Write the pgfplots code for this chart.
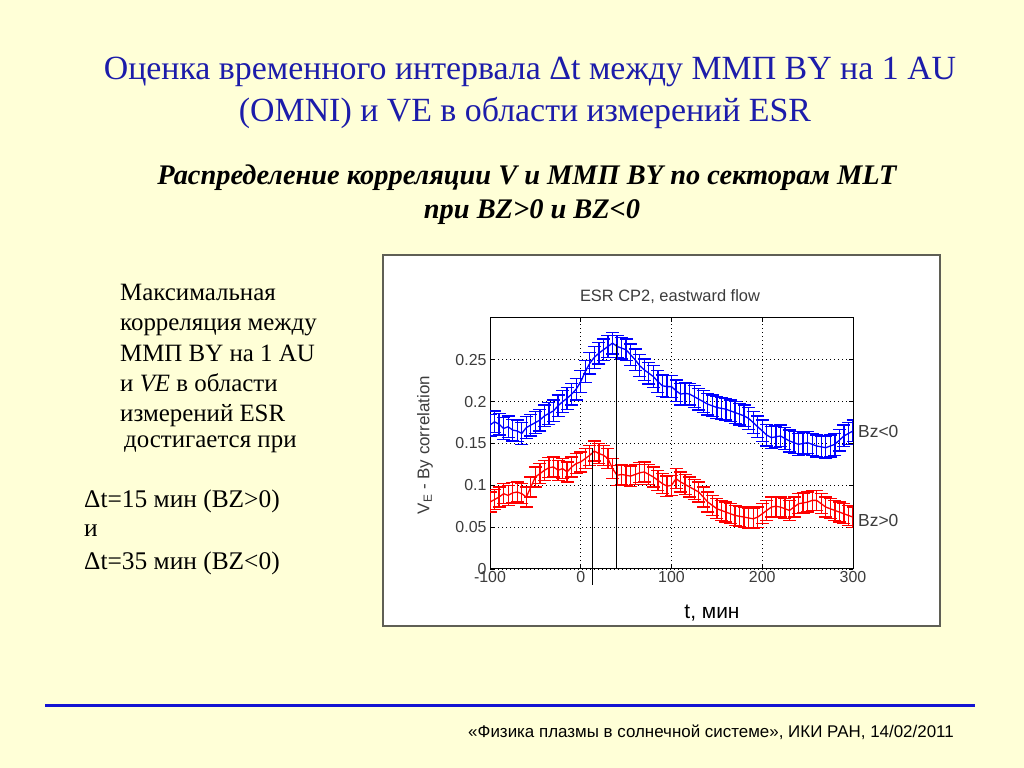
\documentclass[border=0pt]{standalone}
\usepackage{fontspec}
\setmainfont{Liberation Serif}
\newfontfamily\arial{Liberation Sans}
\usepackage{pgfplots}
\pgfplotsset{compat=1.18}
\usepackage{pgfplotstable}
\definecolor{bg}{RGB}{255,255,215}
\definecolor{titleblue}{RGB}{28,28,170}
\definecolor{rulerblue}{RGB}{20,20,210}
\definecolor{ticgray}{RGB}{60,60,60}
\definecolor{framegray}{RGB}{95,95,85}

\pgfplotstableread{
t    b     r
-100 0.172 0.080
-95  0.176 0.083
-90  0.173 0.086
-85  0.168 0.090
-80  0.170 0.088
-75  0.166 0.091
-70  0.165 0.092
-65  0.162 0.090
-60  0.169 0.086
-55  0.172 0.098
-50  0.175 0.110
-45  0.178 0.114
-40  0.183 0.118
-35  0.186 0.121
-30  0.189 0.122
-25  0.195 0.118
-20  0.200 0.120
-15  0.204 0.116
-10  0.209 0.122
-5   0.215 0.126
0    0.224 0.128
5    0.236 0.132
10   0.246 0.136
15   0.253 0.141
20   0.258 0.138
25   0.262 0.136
30   0.266 0.132
35   0.270 0.120
40   0.266 0.112
45   0.264 0.113
50   0.262 0.112
55   0.256 0.111
60   0.250 0.113
65   0.243 0.115
70   0.238 0.116
75   0.234 0.113
80   0.230 0.110
85   0.224 0.106
90   0.219 0.102
95   0.218 0.099
100  0.218 0.100
105  0.213 0.108
110  0.209 0.104
115  0.210 0.101
120  0.209 0.098
125  0.206 0.095
130  0.203 0.092
135  0.200 0.086
140  0.197 0.080
145  0.195 0.076
150  0.193 0.072
155  0.192 0.070
160  0.191 0.068
165  0.189 0.066
170  0.187 0.064
175  0.185 0.063
180  0.183 0.062
185  0.180 0.061
190  0.175 0.060
195  0.170 0.062
200  0.165 0.066
205  0.160 0.070
210  0.157 0.074
215  0.158 0.075
220  0.159 0.074
225  0.156 0.072
230  0.153 0.070
235  0.151 0.074
240  0.149 0.078
245  0.150 0.079
250  0.151 0.080
255  0.149 0.082
260  0.147 0.082
265  0.146 0.078
270  0.145 0.074
275  0.147 0.072
280  0.149 0.070
285  0.154 0.068
290  0.159 0.066
295  0.162 0.064
300  0.165 0.062
}\data

\begin{document}
\begin{tikzpicture}
% slide background
\fill[bg] (0bp,0bp) rectangle (1024bp,768bp);

% slide title
\node[font=\fontsize{34}{40}\selectfont, text=titleblue] at (530bp,696bp)
  {Оценка временного интервала Δt между ММП BY на 1 AU};
\node[font=\fontsize{34}{40}\selectfont, text=titleblue] at (525bp,655bp)
  {(OMNI) и VE в области измерений ESR};

% subtitle
\node[font=\fontsize{28.5}{32}\selectfont\bfseries\itshape] at (527bp,590bp)
  {Распределение корреляции V и ММП BY по секторам MLT};
\node[font=\fontsize{28.5}{32}\selectfont\bfseries\itshape] at (532bp,556bp)
  {при BZ>0 и BZ<0};

% left text
\begin{scope}[every node/.style={anchor=base west, inner sep=0pt, font=\fontsize{25}{28}\selectfont}]
\node at (120bp,467bp) {Максимальная};
\node at (120bp,437bp) {корреляция между};
\node at (120bp,406bp) {ММП BY на 1 AU};
\node at (120bp,376bp) {и \textit{VE} в области};
\node at (120bp,346bp) {измерений ESR};
\node at (124bp,320bp) {достигается при};
\node[font=\fontsize{25.5}{28}\selectfont] at (84bp,260bp) {Δt=15 мин (BZ>0)};
\node[font=\fontsize{25.5}{28}\selectfont] at (84bp,231bp) {и};
\node[font=\fontsize{25.5}{28}\selectfont] at (84bp,198bp) {Δt=35 мин (BZ<0)};
\end{scope}

% chart frame
\draw[framegray, line width=1.2bp, fill=white] (383bp,142bp) rectangle (940bp,513bp);

\begin{axis}[
  at={(490bp,199bp)}, anchor=south west,
  scale only axis, width=363bp, height=251bp,
  xmin=-100, xmax=300, ymin=0, ymax=0.3,
  xtick={-100,0,100,200,300}, xticklabels={-100,0,100,200,300},
  ytick={0,0.05,0.1,0.15,0.2,0.25}, yticklabels={0,0.05,0.1,0.15,0.2,0.25},
  tick label style={font=\arial\fontsize{16}{16}\selectfont, text=ticgray},
  xticklabel style={yshift=1bp},
  major tick length=4bp, tick style={black, line width=0.7bp},
  axis line style={black, line width=1bp},
  grid=major,
  major grid style={black, line width=0.9bp, dash pattern=on 1.3bp off 2.7bp},
  clip mode=individual,
]
\addplot[blue, line width=1.3bp, mark=none,
  error bars/.cd, y dir=both, y fixed=0.013,
  error bar style={line width=1.3bp, blue},
  error mark=-,
  error mark options={rotate=90, mark size=6.5bp, line width=1.3bp, blue}]
  table[x=t, y=b] {\data};
\addplot[red, line width=1.3bp, mark=none,
  error bars/.cd, y dir=both, y fixed=0.012,
  error bar style={line width=1.3bp, red},
  error mark=-,
  error mark options={rotate=90, mark size=6.5bp, line width=1.3bp, red}]
  table[x=t, y=r] {\data};
\draw[black, line width=0.8bp] (axis cs:13,-0.019) -- (axis cs:13,0.145);
\draw[black, line width=0.8bp] (axis cs:39,0) -- (axis cs:39,0.269);
\end{axis}

% chart texts
\node[font=\arial\fontsize{16.5}{16.5}\selectfont, text=ticgray] at (670bp,471bp) {ESR CP2, eastward flow};
\node[font=\arial\fontsize{17}{17}\selectfont, text=ticgray, rotate=90] at (425bp,323bp) {V\textsubscript{E} - By correlation};
\node[font=\arial\fontsize{17.5}{17.5}\selectfont, text=ticgray, anchor=west, inner sep=0pt] at (858bp,336bp) {Bz<0};
\node[font=\arial\fontsize{17.5}{17.5}\selectfont, text=ticgray, anchor=west, inner sep=0pt] at (858bp,247bp) {Bz>0};
\node[font=\arial\fontsize{21}{21}\selectfont] at (712bp,155bp) {t, мин};

% footer
\draw[rulerblue, line width=3bp] (45bp,62bp) -- (975bp,62bp);
\node[font=\arial\fontsize{17}{17}\selectfont] at (711bp,36bp)
  {«Физика плазмы в солнечной системе», ИКИ РАН, 14/02/2011};
\end{tikzpicture}
\end{document}
